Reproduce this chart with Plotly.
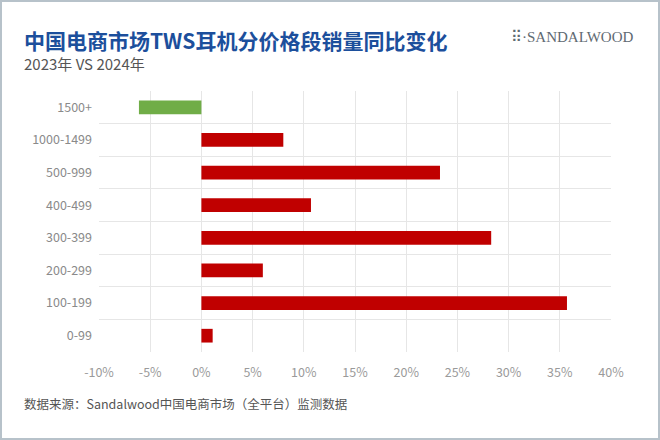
import plotly.graph_objects as go

categories = ["1500+", "1000-1499", "500-999", "400-499", "300-399", "200-299", "100-199", "0-99"]
yoy_change_pct = [-6.1, 8.0, 23.3, 10.7, 28.3, 6.0, 35.7, 1.1]
x_tick_values = [-10, -5, 0, 5, 10, 15, 20, 25, 30, 35, 40]
x_tick_labels = [f"{v}%" for v in x_tick_values]

title_text = "中国电商市场TWS耳机分价格段销量同比变化"
subtitle_text = "2023年 VS 2024年"
source_text = "数据来源：Sandalwood中国电商市场（全平台）监测数据"

RED = "#c00000"
GREEN = "#70ad47"
colors = [GREEN if v < 0 else RED for v in yoy_change_pct]

FONT = "Noto Sans CJK SC"
W, H = 660, 440
ML, MR, MT, MB = 99, 49, 91, 88
PW, PH = W - ML - MR, H - MT - MB

def px(x):
    return (x - ML) / PW

def py(y):
    return (H - MB - y) / PH

fig = go.Figure(go.Bar(
    x=yoy_change_pct, y=categories, orientation="h",
    marker=dict(color=colors, line=dict(width=0)), width=0.42,
    hoverinfo="x+y",
))

fig.update_layout(
    width=W, height=H,
    margin=dict(l=ML, r=MR, t=MT, b=MB),
    paper_bgcolor="white", plot_bgcolor="white",
    showlegend=False,
    font=dict(family=FONT, color="#888"),
    xaxis=dict(
        range=[-10, 40], tickvals=x_tick_values, ticktext=x_tick_labels,
        showgrid=True, gridcolor="#e6e6e6", gridwidth=1,
        zeroline=False, showline=False,
        tickfont=dict(size=12.5, color="#9a9a9a"),
        ticks="outside", ticklen=9, tickcolor="rgba(0,0,0,0)",
    ),
    yaxis=dict(
        categoryorder="array", categoryarray=categories, autorange="reversed",
        tickson="boundaries", showgrid=True, gridcolor="#e6e6e6", gridwidth=1,
        zeroline=False, showline=False,
        tickfont=dict(size=12.5, color="#8a8a8a"),
        ticks="", ticklabelstandoff=6,
    ),
    shapes=[dict(type="rect", xref="paper", yref="paper",
                 x0=px(1), x1=px(659), y0=py(439), y1=py(1),
                 line=dict(color="#b7c2ca", width=2), fillcolor="rgba(0,0,0,0)", layer="below")],
    annotations=[
        dict(text="<b>" + title_text + "</b>", xref="paper", yref="paper",
             x=px(22), y=py(40), xanchor="left", yanchor="middle", showarrow=False,
             font=dict(size=21, color="#1c4f9c", family=FONT)),
        dict(text=subtitle_text, xref="paper", yref="paper",
             x=px(22), y=py(63), xanchor="left", yanchor="middle", showarrow=False,
             font=dict(size=15, color="#555555", family=FONT)),
        dict(text="⠿·SANDALWOOD", xref="paper", yref="paper",
             x=px(636), y=py(37), xanchor="right", yanchor="middle", showarrow=False,
             font=dict(size=15, color="#5f6a72", family="Liberation Serif")),
        dict(text=source_text, xref="paper", yref="paper",
             x=px(22), y=py(403), xanchor="left", yanchor="middle", showarrow=False,
             font=dict(size=12.5, color="#555555", family=FONT)),
    ],
)

fig.write_html("out.html")
